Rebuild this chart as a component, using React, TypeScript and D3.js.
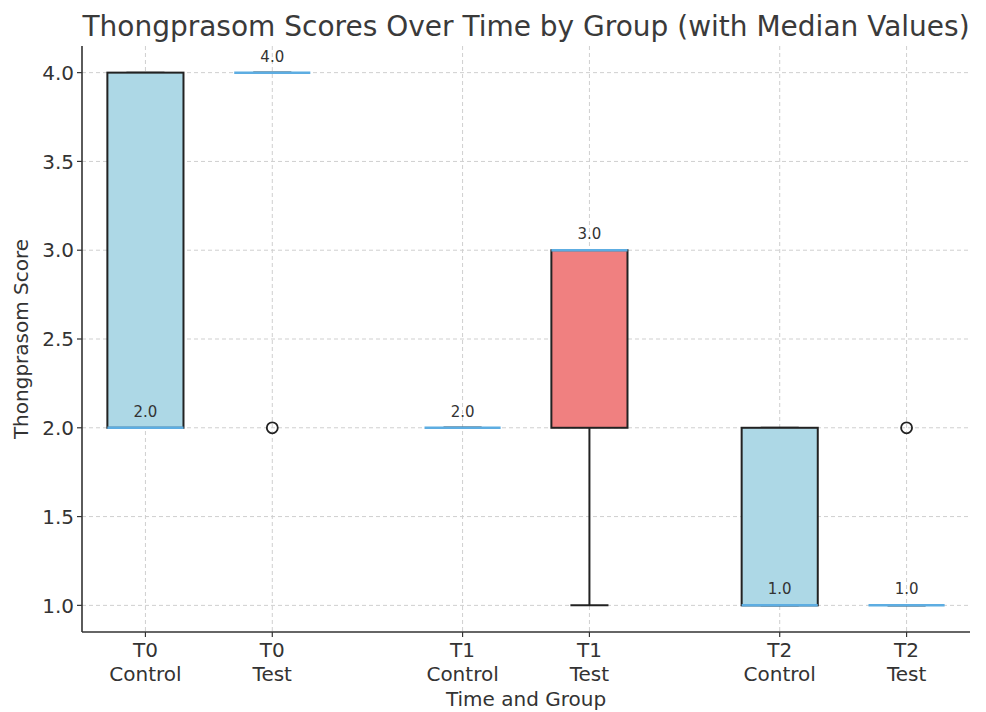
import React from "react";
import * as d3 from "d3";

const timePoints = ["T0", "T0", "T1", "T1", "T2", "T2"];
const groups = ["Control", "Test", "Control", "Test", "Control", "Test"];
const positions = [1, 2, 3.5, 4.5, 6, 7];
const q1 = [2, 4, 2, 2, 1, 1];
const medians = [2, 4, 2, 3, 1, 1];
const q3 = [4, 4, 2, 3, 2, 1];
const whiskerLow = [2, 4, 2, 1, 1, 1];
const whiskerHigh = [4, 4, 2, 3, 2, 1];
const outliers: number[][] = [[], [2], [], [], [], [2]];
const boxColors = ["#add8e6", "#add8e6", "#add8e6", "#f08080", "#add8e6", "#add8e6"];
const yTicks = [1.0, 1.5, 2.0, 2.5, 3.0, 3.5, 4.0];

const W = 986;
const H = 712;
const left = 82;
const right = 970;
const top = 46;
const bottom = 632;
const FONT = "DejaVu Sans, sans-serif";
const TXT = "#333";

export default function App() {
  const x = d3.scaleLinear().domain([0.5, 7.5]).range([left, right]);
  const y = d3.scaleLinear().domain([0.85, 4.15]).range([bottom, top]);
  const bw = x(0.6) - x(0);
  const cw = x(0.3) - x(0);

  return (
    <svg width={W} height={H} style={{ position: "absolute", left: 0, top: 0, background: "#fff" }}>
      {/* grid */}
      {yTicks.map((t) => (
        <line key={"gy" + t} x1={left} x2={right} y1={y(t)} y2={y(t)} stroke="#cfcfcf" strokeWidth={1} strokeDasharray="4,3" />
      ))}
      {positions.map((p, i) => (
        <line key={"gx" + i} x1={x(p)} x2={x(p)} y1={top} y2={bottom} stroke="#cfcfcf" strokeWidth={1} strokeDasharray="4,3" />
      ))}

      {/* boxes */}
      {positions.map((p, i) => {
        const cx = x(p);
        return (
          <g key={"b" + i}>
            {whiskerLow[i] < q1[i] && (
              <line x1={cx} x2={cx} y1={y(q1[i])} y2={y(whiskerLow[i])} stroke="#222" strokeWidth={2} />
            )}
            {whiskerHigh[i] > q3[i] && (
              <line x1={cx} x2={cx} y1={y(q3[i])} y2={y(whiskerHigh[i])} stroke="#222" strokeWidth={2} />
            )}
            <line x1={cx - cw / 2} x2={cx + cw / 2} y1={y(whiskerLow[i])} y2={y(whiskerLow[i])} stroke="#222" strokeWidth={2} />
            <line x1={cx - cw / 2} x2={cx + cw / 2} y1={y(whiskerHigh[i])} y2={y(whiskerHigh[i])} stroke="#222" strokeWidth={2} />
            {q3[i] > q1[i] && (
              <rect
                x={cx - bw / 2}
                y={y(q3[i])}
                width={bw}
                height={y(q1[i]) - y(q3[i])}
                fill={boxColors[i]}
                stroke="#222"
                strokeWidth={2}
              />
            )}
            <line x1={cx - bw / 2} x2={cx + bw / 2} y1={y(medians[i])} y2={y(medians[i])} stroke="#5dade2" strokeWidth={2.5} />
            {outliers[i].map((o, j) => (
              <circle key={j} cx={cx} cy={y(o)} r={5.5} fill="none" stroke="#222" strokeWidth={1.8} />
            ))}
            <text x={cx} y={y(medians[i]) - 11} textAnchor="middle" fontFamily={FONT} fontSize={15} fill={TXT}>
              {medians[i].toFixed(1)}
            </text>
          </g>
        );
      })}

      {/* spines */}
      <line x1={left} x2={left} y1={top} y2={bottom} stroke="#333" strokeWidth={1.6} />
      <line x1={left} x2={right} y1={bottom} y2={bottom} stroke="#333" strokeWidth={1.6} />

      {/* y ticks */}
      {yTicks.map((t) => (
        <g key={"yt" + t}>
          <line x1={left - 5} x2={left} y1={y(t)} y2={y(t)} stroke="#333" strokeWidth={1.2} />
          <text x={left - 8} y={y(t)} dy="0.36em" textAnchor="end" fontFamily={FONT} fontSize={20} fill={TXT}>
            {t.toFixed(1)}
          </text>
        </g>
      ))}

      {/* x ticks */}
      {positions.map((p, i) => (
        <g key={"xt" + i}>
          <line x1={x(p)} x2={x(p)} y1={bottom} y2={bottom + 5} stroke="#333" strokeWidth={1.2} />
          <text x={x(p)} y={657} textAnchor="middle" fontFamily={FONT} fontSize={20} fill={TXT}>
            {timePoints[i]}
          </text>
          <text x={x(p)} y={681} textAnchor="middle" fontFamily={FONT} fontSize={20} fill={TXT}>
            {groups[i]}
          </text>
        </g>
      ))}

      {/* labels */}
      <text x={(left + right) / 2} y={706} textAnchor="middle" fontFamily={FONT} fontSize={20} fill={TXT}>
        Time and Group
      </text>
      <text
        transform={`translate(28,${(top + bottom) / 2}) rotate(-90)`}
        textAnchor="middle"
        fontFamily={FONT}
        fontSize={20}
        fill={TXT}
      >
        Thongprasom Score
      </text>
      <text x={(left + right) / 2} y={36} textAnchor="middle" fontFamily={FONT} fontSize={28} fill="#3a3a3a">
        Thongprasom Scores Over Time by Group (with Median Values)
      </text>
    </svg>
  );
}
